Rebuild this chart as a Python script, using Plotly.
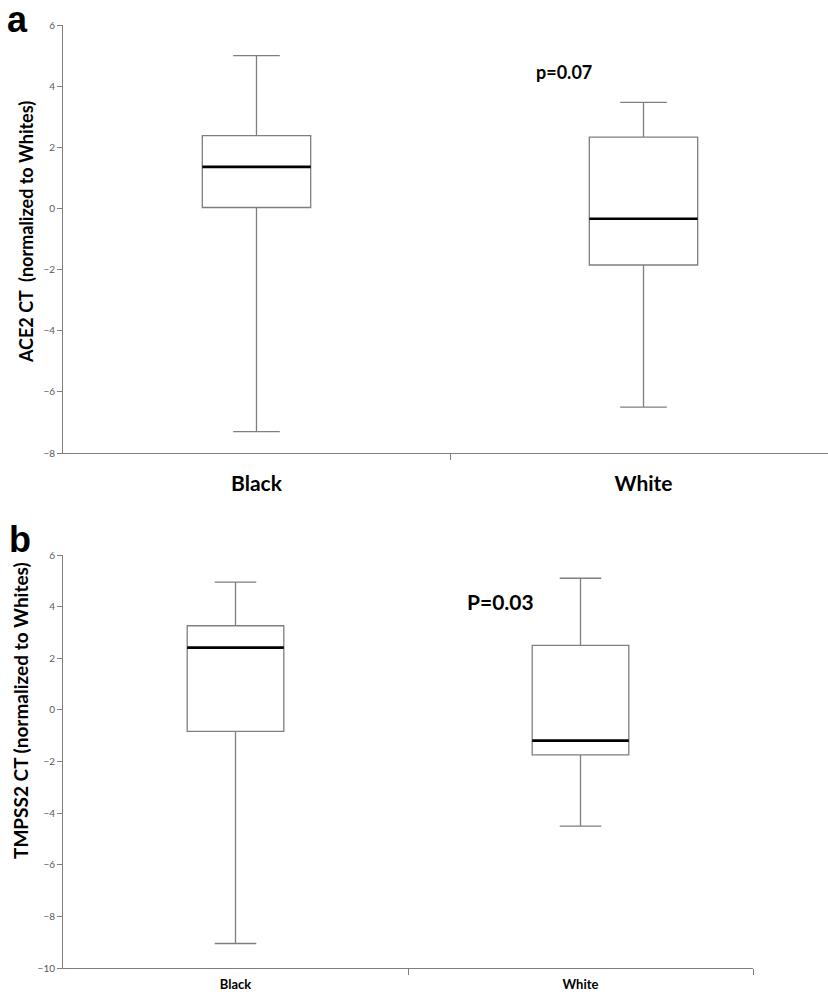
import plotly.graph_objects as go

# ---------------- data ----------------
groups = ["Black", "White"]

ace2_lower = [-7.3, -6.5]
ace2_q1 = [0.03, -1.85]
ace2_median = [1.36, -0.34]
ace2_q3 = [2.38, 2.33]
ace2_upper = [5.0, 3.47]

tmpss2_lower = [-9.05, -4.5]
tmpss2_q1 = [-0.83, -1.74]
tmpss2_median = [2.41, -1.19]
tmpss2_q3 = [3.26, 2.5]
tmpss2_upper = [4.95, 5.1]

yticks_a = [-8, -6, -4, -2, 0, 2, 4, 6]
yticks_b = [-10, -8, -6, -4, -2, 0, 2, 4, 6]

pval_a = "p=0.07"
pval_b = "P=0.03"

# ---------------- layout helpers ----------------
W, H = 828, 992
def fx(p):
    return p / W
def fy(p):
    return 1 - p / H

BOXW = 0.28
LINE = "#7f7f7f"
FONT = "Lato"
positions = [i + 0.5 for i in range(len(groups))]

fig = go.Figure()

def add_panel(xa, ya, lower, q1, med, q3, upper):
    fig.add_trace(go.Box(
        x=positions, q1=q1, median=med, q3=q3,
        lowerfence=lower, upperfence=upper,
        width=BOXW, whiskerwidth=0.43,
        fillcolor="white", line=dict(color=LINE, width=1.3),
        boxpoints=False, showlegend=False, hoverinfo="skip",
        xaxis=xa, yaxis=ya,
    ))
    mx, my = [], []
    for p, m in zip(positions, med):
        mx += [p - BOXW / 2, p + BOXW / 2, None]
        my += [m, m, None]
    fig.add_trace(go.Scatter(
        x=mx, y=my, mode="lines", line=dict(color="black", width=2.6),
        showlegend=False, hoverinfo="skip", xaxis=xa, yaxis=ya,
    ))

add_panel("x", "y", ace2_lower, ace2_q1, ace2_median, ace2_q3, ace2_upper)
add_panel("x2", "y2", tmpss2_lower, tmpss2_q1, tmpss2_median, tmpss2_q3, tmpss2_upper)

# panel a: category width 387 px, plot area cropped at the right edge
cat_a = 387.0
cat_b = 345.0

common_y = dict(showline=True, linecolor=LINE, linewidth=1, ticks="outside",
                ticklen=5, tickcolor=LINE, showgrid=False, zeroline=False,
                automargin=False,
                tickfont=dict(family=FONT, size=10, color="#595959"))
common_x = dict(showline=True, linecolor=LINE, linewidth=1, ticks="",
                showgrid=False, zeroline=False, automargin=False,
                tickmode="array", tickvals=positions, ticktext=groups,
                minor=dict(tickmode="array", tickvals=[1, 2], ticks="outside",
                           ticklen=6, tickcolor=LINE))

fig.update_layout(
    template="none",
    width=W, height=H,
    margin=dict(l=0, r=0, t=0, b=0),
    paper_bgcolor="white", plot_bgcolor="white",
    xaxis=dict(domain=[fx(63), 1.0], range=[0, (W - 63) / cat_a],
               anchor="y", ticklabelstandoff=12,
               tickfont=dict(family=FONT, size=21, color="black", weight="bold"),
               **common_x),
    yaxis=dict(domain=[fy(453), fy(25)], range=[-8, 6], anchor="x",
               tickvals=yticks_a, **common_y),
    xaxis2=dict(domain=[fx(63), fx(63 + 2 * cat_b)], range=[0, 2],
                anchor="y2", ticklabelstandoff=4,
                tickfont=dict(family=FONT, size=13, color="black", weight="bold"),
                **common_x),
    yaxis2=dict(domain=[fy(968), fy(555)], range=[-10, 6], anchor="x2",
                tickvals=yticks_b, **common_y),
)

annos = [
    dict(text="a", x=fx(5), y=fy(19), xanchor="left", yanchor="middle",
         font=dict(family="Liberation Sans", size=36, color="black", weight="bold")),
    dict(text="b", x=fx(7), y=fy(539), xanchor="left", yanchor="middle",
         font=dict(family="Liberation Sans", size=36, color="black", weight="bold")),
    dict(text="ACE2 CT  (normalized to Whites)", x=fx(26), y=fy(232), textangle=-90,
         xanchor="center", yanchor="middle",
         font=dict(family=FONT, size=18, color="black", weight="bold")),
    dict(text="TMPSS2 CT (normalized to Whites)", x=fx(20), y=fy(711), textangle=-90,
         xanchor="center", yanchor="middle",
         font=dict(family=FONT, size=19, color="black", weight="bold")),
    dict(text=pval_a, x=fx(564), y=fy(72), xanchor="center", yanchor="middle",
         font=dict(family=FONT, size=18, color="black", weight="bold")),
    dict(text=pval_b, x=fx(500), y=fy(601), xanchor="center", yanchor="middle",
         font=dict(family=FONT, size=21, color="black", weight="bold")),
]
for a in annos:
    a.update(xref="paper", yref="paper", showarrow=False)
fig.update_layout(annotations=annos)

fig.write_html("out.html", config={"displayModeBar": False},
               post_script="document.body.style.margin='0';")
